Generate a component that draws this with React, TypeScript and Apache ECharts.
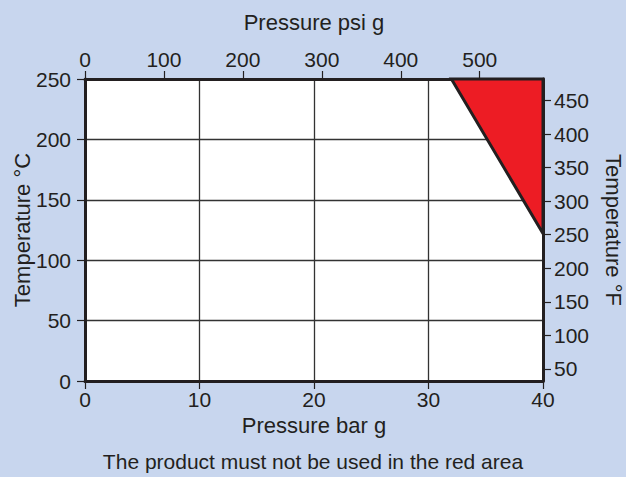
import React, { useEffect, useRef } from "react";
import * as echarts from "echarts";

// Bottom axis: pressure in bar g
const barTicks = [0, 10, 20, 30, 40];
// Top axis: pressure in psi g (tick step)
const psiTickStep = 100;
// Left axis: temperature in °C
const tempCTicks = [0, 50, 100, 150, 200, 250];
// Right axis: temperature in °F (tick step)
const tempFTickStep = 50;
// Red (forbidden) area corners: pressure bar g, temperature °C
const redAreaBar = [32, 40, 40];
const redAreaC = [250, 250, 122];

const BAR_TO_PSI = 14.5038;
const cToF = (c: number) => c * 1.8 + 32;

const INK = "#231F20";
const FONT = "'Liberation Sans', Arial, Helvetica, sans-serif";

export default function App() {
  const ref = useRef<HTMLDivElement>(null);
  useEffect(() => {
    if (!ref.current) return;
    const chart = echarts.init(ref.current, undefined, { renderer: "svg" });
    const barMin = barTicks[0];
    const barMax = barTicks[barTicks.length - 1];
    const cMin = tempCTicks[0];
    const cMax = tempCTicks[tempCTicks.length - 1];
    const psiMin = barMin * BAR_TO_PSI;
    const psiMax = barMax * BAR_TO_PSI;
    const fMin = cToF(cMin);
    const fMax = cToF(cMax);
    const labelStyle = () => ({ color: INK, fontSize: 21, fontFamily: FONT });
    const nameStyle = () => ({ color: INK, fontSize: 22, fontFamily: FONT });
    const axisLine = () => ({ show: true, onZero: false, lineStyle: { color: INK, width: 3 } });
    const axisTick = () => ({ show: true, inside: false, length: 8, lineStyle: { color: INK, width: 1.2 } });

    chart.setOption({
      animation: false,
      backgroundColor: "#C8D6EE",
      grid: {
        left: 85,
        right: 83,
        top: 79,
        bottom: 96,
        show: true,
        backgroundColor: "#FFFFFF",
        borderWidth: 0,
        containLabel: false,
        outerBoundsMode: "none",
      },
      xAxis: [
        {
          type: "value",
          position: "bottom",
          min: barMin,
          max: barMax,
          interval: 10,
          name: "Pressure bar g",
          nameLocation: "middle",
          nameGap: 33,
          nameTextStyle: nameStyle(),
          axisLine: axisLine(),
          axisTick: axisTick(),
          axisLabel: { ...labelStyle(), margin: 8 },
          splitLine: { show: true, lineStyle: { color: "#333333", width: 1.3 } },
        },
        {
          type: "value",
          position: "top",
          min: psiMin,
          max: psiMax,
          splitNumber: Math.round((psiMax - psiMin) / psiTickStep),
          name: "Pressure psi g",
          nameLocation: "middle",
          nameGap: 46,
          nameTextStyle: nameStyle(),
          axisLine: axisLine(),
          axisTick: axisTick(),
          axisLabel: { ...labelStyle(), margin: 9, showMaxLabel: false },
          splitLine: { show: false },
        },
      ],
      yAxis: [
        {
          type: "value",
          position: "left",
          min: cMin,
          max: cMax,
          interval: 50,
          name: "Temperature °C",
          nameLocation: "middle",
          nameGap: 52,
          nameMoveOverlap: false,
          nameTextStyle: nameStyle(),
          axisLine: axisLine(),
          axisTick: axisTick(),
          axisLabel: { ...labelStyle(), margin: 14 },
          splitLine: { show: true, lineStyle: { color: "#333333", width: 1.3 } },
        },
        {
          type: "value",
          position: "right",
          min: fMin,
          max: fMax,
          splitNumber: Math.round((fMax - fMin) / tempFTickStep),
          name: "Temperature °F",
          nameLocation: "middle",
          nameRotate: -90,
          nameGap: 59,
          nameTextStyle: nameStyle(),
          axisLine: axisLine(),
          axisTick: axisTick(),
          axisLabel: { ...labelStyle(), margin: 11, showMinLabel: false, showMaxLabel: false },
          splitLine: { show: false },
        },
      ],
      graphic: [
        {
          type: "text",
          left: "center",
          top: 451,
          style: {
            text: "The product must not be used in the red area",
            fill: INK,
            fontSize: 21,
            fontFamily: FONT,
          },
        },
      ],
      series: [
        {
          type: "custom",
          coordinateSystem: "cartesian2d",
          xAxisIndex: 0,
          yAxisIndex: 0,
          clip: false,
          z: 3,
          data: redAreaBar.map((b, i) => [b, redAreaC[i]]),
          renderItem: (params: any, api: any) => {
            if (params.dataIndex !== 0) return null;
            const pts = redAreaBar.map((b, i) => api.coord([b, redAreaC[i]]));
            return {
              type: "polygon",
              shape: { points: pts },
              style: { fill: "#ED1C24", stroke: INK, lineWidth: 3, lineJoin: "miter" },
            };
          },
        },
      ],
    });
    return () => chart.dispose();
  }, []);
  return (
    <div
      ref={ref}
      style={{ position: "fixed", left: 0, top: 0, width: 626, height: 477 }}
    />
  );
}
